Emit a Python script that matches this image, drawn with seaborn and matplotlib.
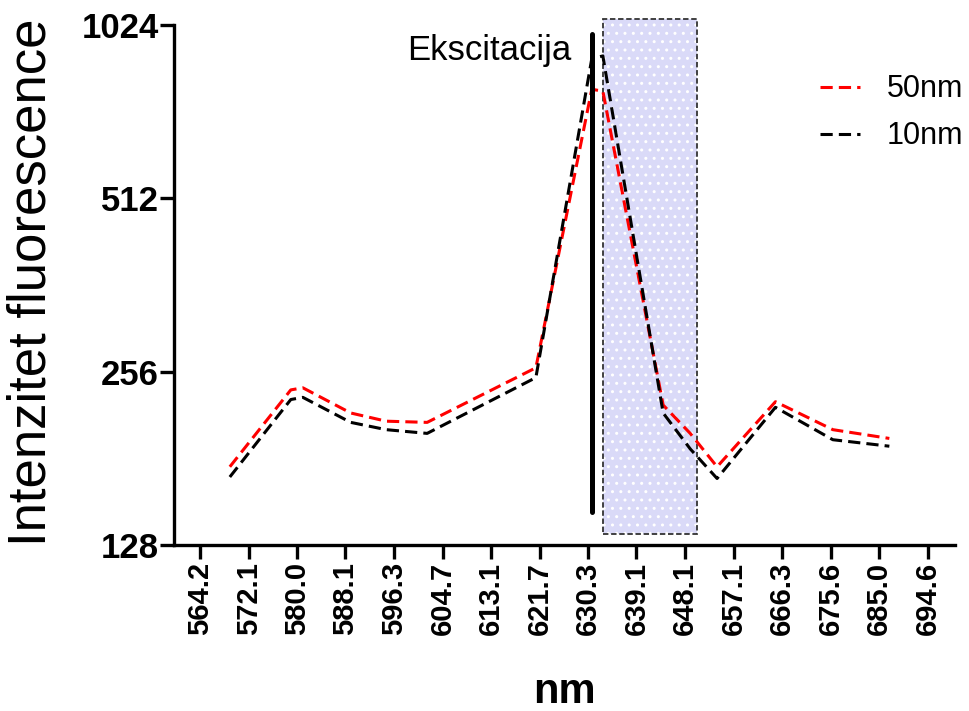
import numpy as np
import pandas as pd
import seaborn as sns
import matplotlib.pyplot as plt
from matplotlib.patches import Rectangle
from matplotlib.ticker import NullLocator

# emission spectrum
wavelength = [569, 579, 581, 589, 595, 602, 621, 631, 633, 644, 649, 654, 665, 676, 687]
int_50nm = [175, 238, 240, 217, 210, 209, 260, 792, 786, 224, 200, 175, 227, 203, 196]
int_10nm = [168, 229, 231, 209, 203, 200, 250, 895, 905, 217, 188, 167, 222, 195, 190]

xtick_vals = [564.2, 572.1, 580.0, 588.1, 596.3, 604.7, 613.1, 621.7,
              630.3, 639.1, 648.1, 657.1, 666.3, 675.6, 685.0, 694.6]
ytick_vals = [128, 256, 512, 1024]

excitation_nm = 631
band_nm = (633.1, 650.3)

df = pd.DataFrame({
    "nm": wavelength * 2,
    "value": int_50nm + int_10nm,
    "series": ["50nm"] * len(wavelength) + ["10nm"] * len(wavelength),
})

sns.set_style("ticks")
plt.rcParams["font.family"] = ["Liberation Sans", "DejaVu Sans"]
for key in ["text.color", "axes.labelcolor", "xtick.color", "ytick.color"]:
    plt.rcParams[key] = "black"

fig = plt.figure(figsize=(9.69, 7.11), dpi=100)
ax = fig.add_axes([0.1796, 0.2335, 0.8059, 0.7313])

colors = {"50nm": "red", "10nm": "black"}
for name in ["50nm", "10nm"]:
    sub = df[df["series"] == name]
    sns.lineplot(data=sub, x="nm", y="value", ax=ax, color=colors[name],
                 linewidth=2.2, linestyle=(0, (4, 2)), label=name, zorder=3)

ax.set_xscale("log")
ax.set_yscale("log", base=2)
ax.set_xlim(560, 700)
ax.set_ylim(128, 1024)

# filter band
ax.add_patch(Rectangle((band_nm[0], 134), band_nm[1] - band_nm[0], 1049 - 134,
                       facecolor="#dadaf8", edgecolor="white", hatch="..",
                       linewidth=0, zorder=1, clip_on=False))
ax.add_patch(Rectangle((band_nm[0], 134), band_nm[1] - band_nm[0], 1049 - 134,
                       fill=False, edgecolor="#333333", linewidth=1.3,
                       linestyle=(0, (3, 1.5)), zorder=2, clip_on=False))

# excitation line
ax.plot([excitation_nm, excitation_nm], [146, 988], color="black", linewidth=3.6, zorder=4)
ax.text(627.4, 925, "Ekscitacija", ha="right", va="center", fontsize=25)

ax.xaxis.set_minor_locator(NullLocator())
ax.yaxis.set_minor_locator(NullLocator())
ax.set_xticks(xtick_vals)
ax.set_xticklabels([f"{v:.1f}" for v in xtick_vals], rotation=90,
                   fontsize=21, fontweight="bold")
ax.set_yticks(ytick_vals)
ax.set_yticklabels([str(v) for v in ytick_vals], fontsize=25, fontweight="bold")
ax.tick_params(axis="both", width=2.4, length=10, color="black")
ax.tick_params(axis="x", pad=2)
ax.tick_params(axis="y", pad=1)

for side in ["top", "right"]:
    ax.spines[side].set_visible(False)
for side in ["left", "bottom"]:
    ax.spines[side].set_linewidth(2.4)
    ax.spines[side].set_color("black")

ax.set_xlabel("nm", fontsize=30, fontweight="bold")
ax.set_ylabel("Intenzitet fluorescence", fontsize=38)
ax.xaxis.set_label_coords(0.5, -0.283)
ax.xaxis.label.set_verticalalignment("center")
ax.yaxis.set_label_coords(-0.183, 0.505)
ax.yaxis.label.set_verticalalignment("center")

ax.legend(loc="upper left", bbox_to_anchor=(0.827, 0.905), frameon=False,
          borderaxespad=0, borderpad=0,
          fontsize=22, handlelength=1.3, handletextpad=0.9, labelspacing=0.55)

fig.savefig("out.png", dpi=100)
